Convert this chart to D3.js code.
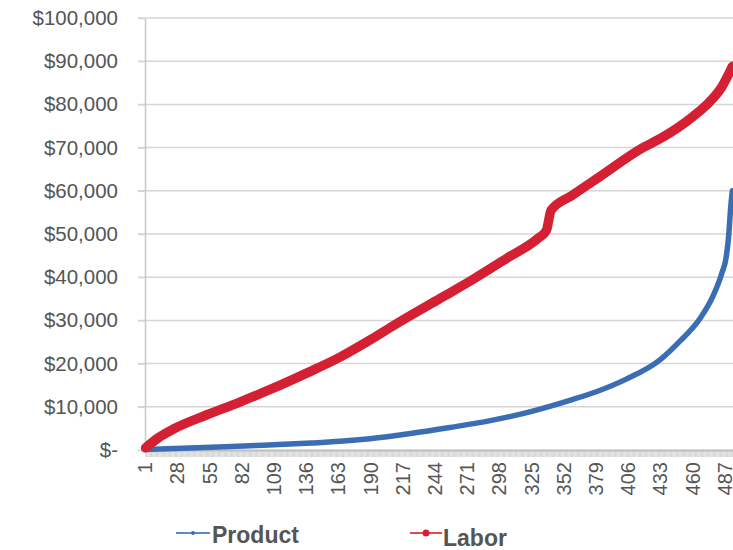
<!DOCTYPE html>
<html>
<head>
<meta charset="utf-8">
<script src="https://cdn.jsdelivr.net/npm/d3@7"></script>
<style>
  body { margin: 0; background: #fff; }
  svg { display: block; font-family: "Liberation Sans", Arial, sans-serif; }
</style>
</head>
<body>
<script>
// categories 1..493 along the x axis, labels every 27th
var categories = d3.range(1, 494);
var tickLabels = [1, 28, 55, 82, 109, 136, 163, 190, 217, 244, 271, 298, 325, 352, 379, 406, 433, 460, 487];
var yTicks = [0, 10000, 20000, 30000, 40000, 50000, 60000, 70000, 80000, 90000, 100000];

// values at these categories
var laborCats = [1, 12, 24, 52, 80, 108, 136, 164, 190, 210, 248, 275, 304, 330, 337, 341, 359, 382, 418, 432, 460, 474, 484, 493];
var labor = [500, 2900, 4800, 8100, 11100, 14300, 17800, 21500, 25600, 29000, 35100, 39400, 44400, 49000, 50800, 55500, 59000, 63300, 70000, 72000, 77200, 80600, 84000, 88800];

var productCats = [1, 50, 100, 140, 164, 189, 223, 256, 290, 324, 358, 380, 404, 432, 449, 466, 477, 484, 488, 490, 491, 492, 493];
var product = [100, 600, 1100, 1600, 2000, 2600, 3800, 5200, 6800, 8900, 11600, 13600, 16400, 20800, 25200, 30500, 35800, 40800, 45000, 50000, 54000, 57500, 60000];

const margin = {top: 18, left: 145},
    width = 733,
    height = 550,
    plotW = 588,
    plotH = 432;

let svg = d3.select("body")
    .append("svg")
    .attr("width", width)
    .attr("height", height);

var x = d3.scaleBand()
    .domain(categories)
    .range([margin.left, margin.left + plotW]);

var y = d3.scaleLinear()
    .domain([0, 100000])
    .range([margin.top + plotH, margin.top]);

var cx = function(c) { return x(c) + x.bandwidth() / 2; };

// gridlines
svg.append("g")
    .selectAll("line")
    .data(yTicks.slice(1))
    .enter().append("line")
    .attr("x1", margin.left - 7)
    .attr("x2", width)
    .attr("y1", d => y(d))
    .attr("y2", d => y(d))
    .attr("stroke", "#d6d6d6")
    .attr("stroke-width", 1.5);

// y axis
var yAxis = svg.append("g")
    .attr("transform", "translate(" + margin.left + ",0)")
    .call(d3.axisLeft(y)
        .tickValues(yTicks)
        .tickSizeInner(7)
        .tickSizeOuter(0)
        .tickPadding(20)
        .tickFormat(d => d === 0 ? "$-" : "$" + d3.format(",")(d)));
yAxis.select(".domain").attr("stroke", "#c8c8c8").attr("stroke-width", 1.5);
yAxis.selectAll(".tick line").attr("stroke", "#d6d6d6").attr("stroke-width", 1.5);
yAxis.selectAll("text")
    .attr("fill", "#555")
    .style("font-size", "20.5px");

// dense category ticks along the bottom
var xTicks = svg.append("g")
    .attr("transform", "translate(0," + (margin.top + plotH) + ")")
    .call(d3.axisBottom(x)
        .tickValues(categories)
        .tickSizeInner(7)
        .tickSizeOuter(0)
        .tickFormat(""));
xTicks.select(".domain").attr("stroke", "#b8b8b8").attr("stroke-width", 2);
xTicks.selectAll(".tick line").attr("stroke", "#c4c4c4").attr("stroke-width", 0.7);

// x tick labels
var xLab = svg.append("g")
    .attr("transform", "translate(0," + (margin.top + plotH) + ")")
    .call(d3.axisBottom(x)
        .tickValues(tickLabels)
        .tickSize(0)
        .tickPadding(0));
xLab.select(".domain").remove();
xLab.selectAll("text")
    .attr("fill", "#555")
    .style("font-size", "20px")
    .attr("text-anchor", "end")
    .attr("transform", "rotate(-90)")
    .attr("x", -12)
    .attr("y", 0)
    .attr("dy", "0.33em")
    .attr("dx", 0);

// series
var line = d3.line()
    .curve(d3.curveMonotoneX)
    .x(d => cx(d[0]))
    .y(d => y(d[1]));

svg.append("path")
    .datum(d3.zip(productCats, product))
    .attr("d", line)
    .attr("fill", "none")
    .attr("stroke", "#3b6db4")
    .attr("stroke-width", 5.5)
    .attr("stroke-linejoin", "round")
    .attr("stroke-linecap", "round");

svg.append("path")
    .datum(d3.zip(laborCats, labor))
    .attr("d", line)
    .attr("fill", "none")
    .attr("stroke", "#d51f33")
    .attr("stroke-width", 9.5)
    .attr("stroke-linejoin", "round")
    .attr("stroke-linecap", "round");

// legend
var legend = [
    {name: "Product", color: "#3b6db4", x1: 176, x2: 210, tx: 212, ty: 543},
    {name: "Labor", color: "#d51f33", x1: 410, x2: 442, tx: 443, ty: 546}
];
var lg = svg.append("g").selectAll("g").data(legend).enter().append("g");
lg.append("line")
    .attr("x1", d => d.x1).attr("x2", d => d.x2)
    .attr("y1", 533).attr("y2", 533)
    .attr("stroke", d => d.color)
    .attr("stroke-width", 2)
    .attr("opacity", 0.8);
lg.append("circle")
    .attr("cx", d => (d.x1 + d.x2) / 2)
    .attr("cy", 533)
    .attr("r", (d, i) => i === 0 ? 2 : 3.5)
    .attr("fill", d => d.color);
lg.append("text")
    .attr("x", d => d.tx)
    .attr("y", d => d.ty)
    .attr("fill", "#555")
    .style("font-size", "23px")
    .style("font-weight", "bold")
    .text(d => d.name);
</script>
</body>
</html>
